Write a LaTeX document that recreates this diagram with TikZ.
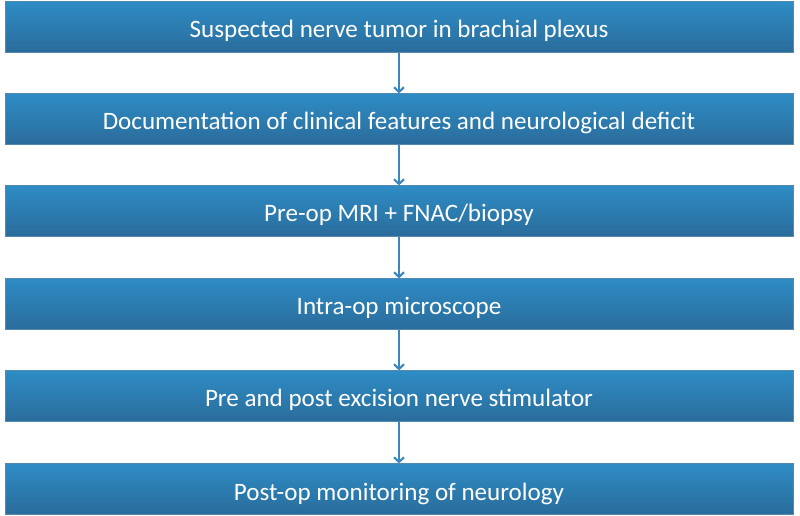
\documentclass[tikz,border=0pt]{standalone}
\usepackage{fontspec}
\setmainfont{Carlito}
\usepackage{tikz}
\usetikzlibrary{shadows,arrows.meta}
\tikzset{>={Straight Barb[length=3.5pt,width=7.5pt]}}

\begin{document}
\begin{tikzpicture}[x=0.75pt,y=-0.75pt]
    \tikzstyle{stepbox}=[minimum width=591pt,minimum height=38pt,inner sep=0pt,
      top color=boxtop,bottom color=boxbot,draw=boxbot!80!white,line width=0.4pt,
      text=white,font=\fontsize{18.8}{20}\selectfont,text height=16.5pt,text depth=0pt,
      drop shadow={opacity=0.35,shadow xshift=0.8pt,shadow yshift=-0.8pt}];
    \tikzstyle{flow}=[->,line width=1.6pt,color=arrowblue];
    \definecolor{boxtop}{HTML}{2E8CC5}
    \definecolor{boxbot}{HTML}{2A6C9B}
    \definecolor{arrowblue}{HTML}{3A86BE}
    \useasboundingbox (0,0) rectangle (800,516);
    \node[stepbox] (suspect) at (399,27) {Suspected nerve tumor in brachial plexus};
    \node[stepbox] (document) at (399,119) {Documentation of clinical features and neurological deficit};
    \node[stepbox] (mri) at (399,211) {Pre-op MRI + FNAC/biopsy};
    \node[stepbox] (micro) at (399,304) {Intra-op microscope};
    \node[stepbox] (stim) at (399,396) {Pre and post excision nerve stimulator};
    \node[stepbox] (monitor) at (399,489) {Post-op monitoring of neurology};
    \draw[flow] (suspect) -- (document);
    \draw[flow] (document) -- (mri);
    \draw[flow] (mri) -- (micro);
    \draw[flow] (micro) -- (stim);
    \draw[flow] (stim) -- (monitor);
  \end{tikzpicture}
\end{document}
